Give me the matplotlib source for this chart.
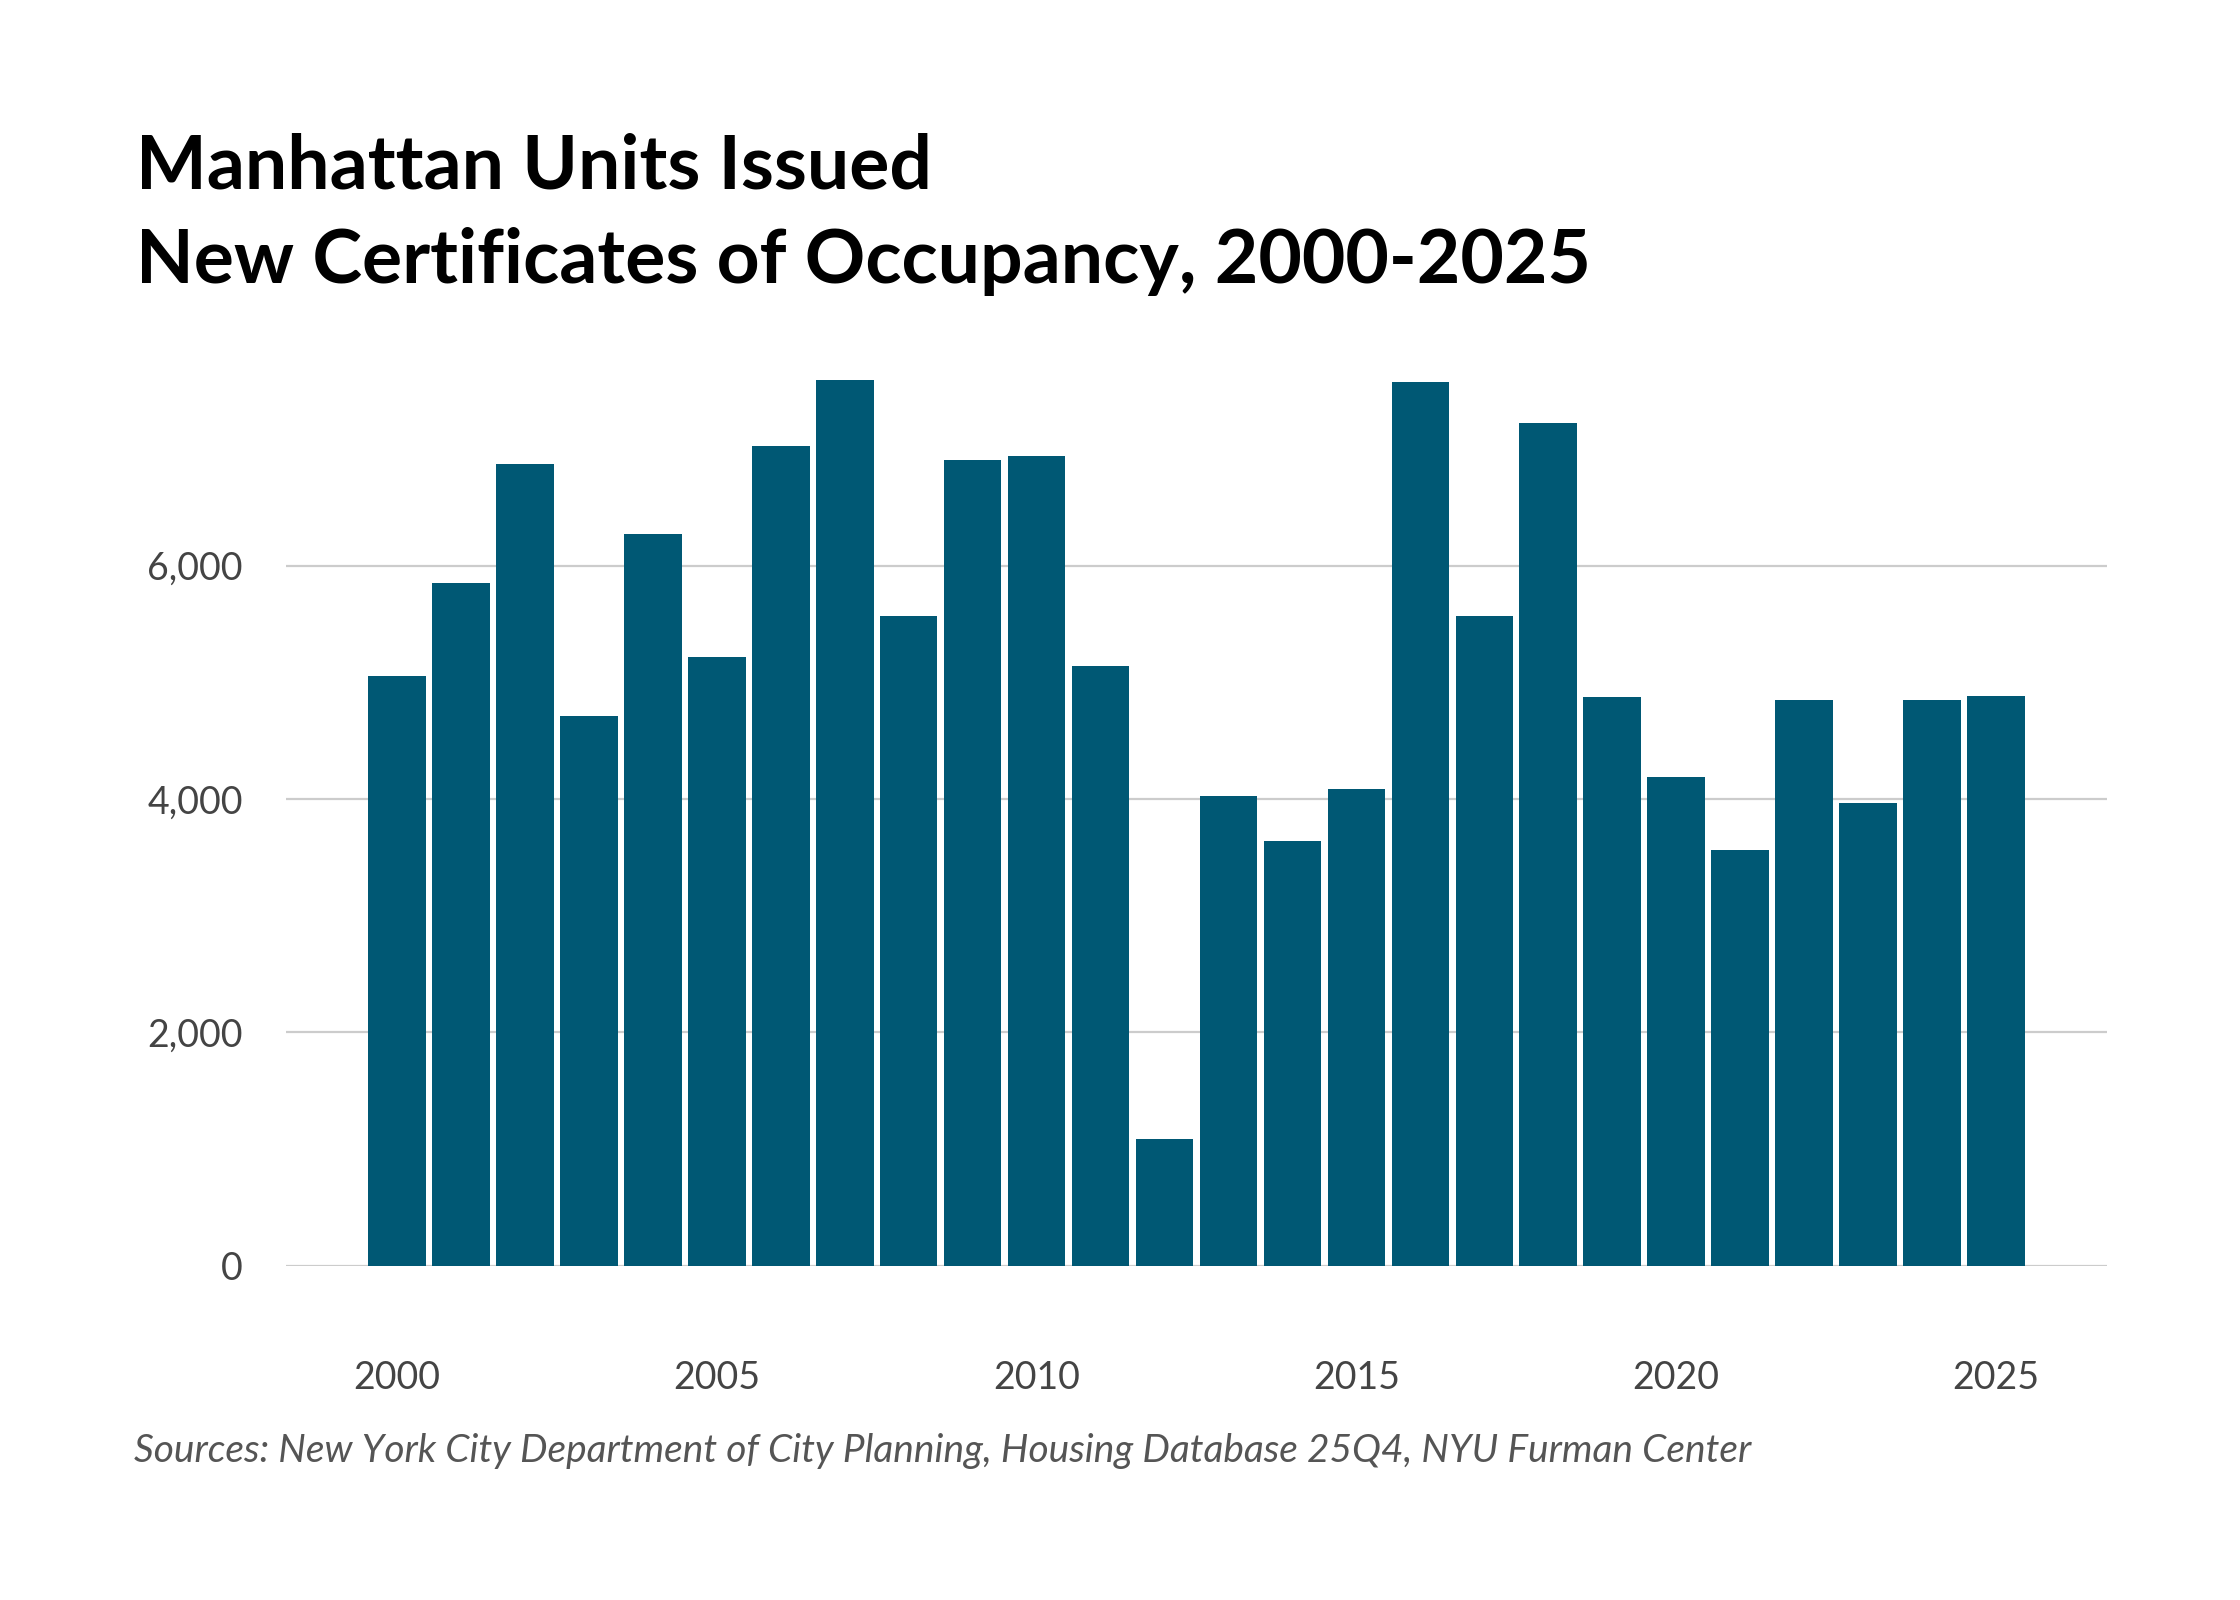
# Manhattan: unidades com novos certificados de ocupação, 2000-2025
import matplotlib.pyplot as plt
import numpy as np

# dados (valores estimados)
anos = list(range(2000, 2026))
unidades = [5055, 5851, 6867, 4712, 6267, 5214, 7026, 7589, 5569, 6903,
            6940, 5141, 1089, 4027, 3635, 4088, 7576, 5569, 7222, 4871,
            4186, 3562, 4847, 3966, 4847, 4884]
ticks_y = [0, 2000, 4000, 6000]
ticks_x = [2000, 2005, 2010, 2015, 2020, 2025]

titulo = "Manhattan Units Issued\nNew Certificates of Occupancy, 2000-2025"
fonte = "Sources: New York City Department of City Planning, Housing Database 25Q4, NYU Furman Center"

cor_barra = "#005874"
cor_texto = "#444444"

fig = plt.figure(figsize=(22.4, 16), dpi=100)
ax = fig.add_axes([0.1276, 0.209, 0.8131, 0.5615])

x = np.arange(len(anos))
ax.bar(x, unidades, width=0.9, color=cor_barra, zorder=3)

ax.set_xlim(-1.74, len(anos) - 1 + 1.74)
ax.set_ylim(0, 7700)

ax.set_yticks(ticks_y)
ax.set_yticklabels([f"{v:,}" for v in ticks_y])
ax.yaxis.grid(True, color="#cccccc", linewidth=1.6, zorder=0)

ax.set_xticks([anos.index(a) for a in ticks_x])
ax.set_xticklabels([str(a) for a in ticks_x])

ax.tick_params(axis="y", length=0, pad=31, labelsize=27, labelcolor=cor_texto)
ax.tick_params(axis="x", length=0, pad=68, labelsize=27, labelcolor=cor_texto)
for lbl in ax.get_xticklabels() + ax.get_yticklabels():
    lbl.set_fontfamily("Lato")

for s in ax.spines.values():
    s.set_visible(False)

fig.text(0.0606, 0.917, titulo, fontsize=54, fontweight="bold", family="Lato",
         color="black", va="top", ha="left", linespacing=1.45)
fig.text(0.0599, 0.093, fonte, fontsize=28, style="italic", family="Lato",
         color="#555555", va="center", ha="left")

fig.savefig("out.png", dpi=100, facecolor="white")
